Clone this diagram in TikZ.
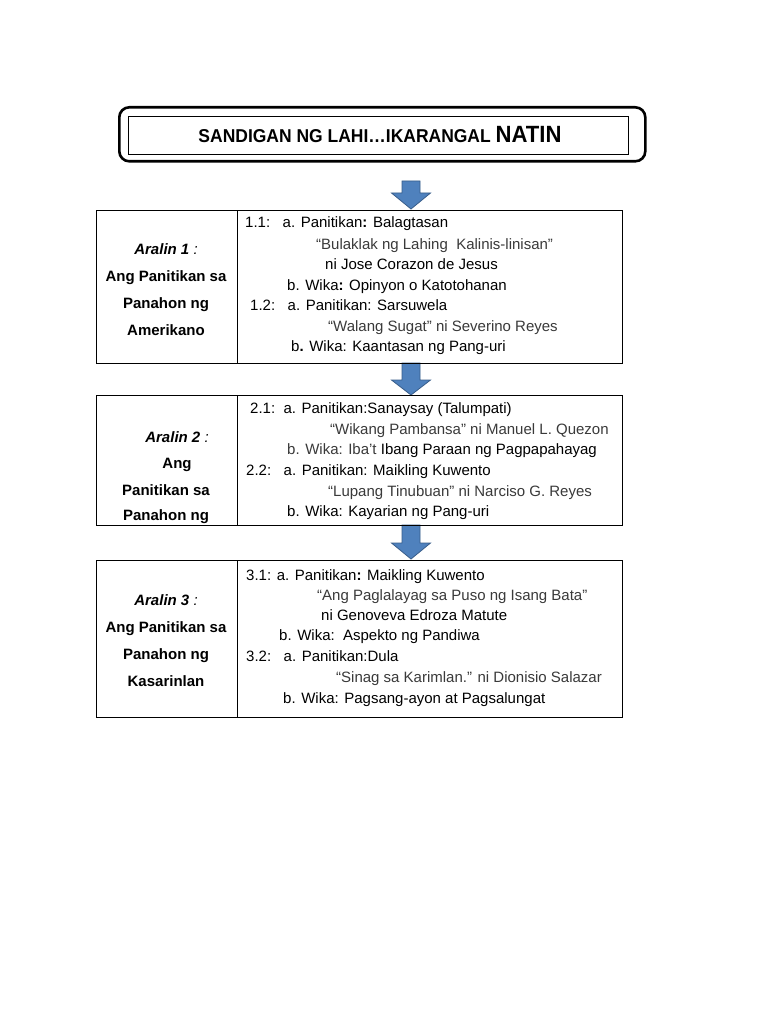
\documentclass[tikz,border=0pt]{standalone}
\usepackage{fontspec}
\setmainfont{Liberation Sans}
\newfontfamily\titlefont[FakeStretch=0.94]{Liberation Sans}
\definecolor{quotegray}{HTML}{3A3A3A}
\definecolor{arrowblue}{HTML}{4F81BD}
\definecolor{arrowedge}{HTML}{385D8A}
\begin{document}
\begin{tikzpicture}[x=1pt,y=-1pt,
  every node/.style={font=\fontsize{15}{18}\selectfont},
  t/.style={anchor=base west, inner sep=0pt},
  q/.style={anchor=base west, inner sep=0pt, text=quotegray},
  l/.style={anchor=base, inner sep=0pt, font=\fontsize{15}{18}\selectfont\bfseries},
  cell/.style={draw=black, line width=1.1pt, anchor=north west, inner sep=0pt},
  blockarrow/.style={fill=arrowblue, draw=arrowedge, line width=0.8pt, line join=miter}]
\useasboundingbox[fill=white] (0,0) rectangle (768,1024);

% ---- arrows (drawn first, boxes over them)
\coordinate (a1) at (411,181);
\coordinate (a2) at (411,363);
\coordinate (a3) at (411,525);
\draw[blockarrow] (a1) ++(-9,0) -- ++(18,0) -- ++(0,12) -- ++(10.5,0) -- ++(-19.5,16) -- ++(-19.5,-16) -- ++(10.5,0) -- cycle;
\draw[blockarrow] (a2) ++(-9,0) -- ++(18,0) -- ++(0,17) -- ++(10.5,0) -- ++(-19.5,15) -- ++(-19.5,-15) -- ++(10.5,0) -- cycle;
\draw[blockarrow] (a3) ++(-9,0) -- ++(18,0) -- ++(0,18) -- ++(10.5,0) -- ++(-19.5,16) -- ++(-19.5,-16) -- ++(10.5,0) -- cycle;

% ---- title
\node[draw=black, line width=2.6pt, rounded corners=10pt, anchor=north west, inner sep=0pt,
      minimum width=526pt, minimum height=54pt] (outer) at (118,106) {};
\node[draw=black, line width=0.8pt, anchor=north west, inner sep=0pt,
      minimum width=500pt, minimum height=38pt] (inner) at (128,116) {};
\node[anchor=base, inner sep=0pt] (title) at (380,143)
  {\titlefont\fontsize{18.6}{20}\selectfont\bfseries SANDIGAN NG LAHI…IKARANGAL \fontsize{23.5}{25}\selectfont NATIN};

% ---- panel 1
\node[cell, minimum width=141pt, minimum height=153pt] (l1) at (96,210) {};
\node[cell, minimum width=385pt, minimum height=153pt] (r1) at (237,210) {};
\node[l] (l1a) at (166,254) {\textit{Aralin 1}\textmd{\textit{ :}}};
\node[l] (l1b) at (166,281) {Ang Panitikan sa};
\node[l] (l1c) at (166,308) {Panahon ng};
\node[l] (l1d) at (166,335) {Amerikano};
\node[t] (r1a) at (245,228) {1.1:\ \ \ a. Panitikan\textbf{:} Balagtasan};
\node[q] (r1b) at (316,249) {“Bulaklak ng Lahing\ \ Kalinis-linisan”};
\node[t] (r1c) at (325,269) {ni Jose Corazon de Jesus};
\node[t] (r1d) at (287,290) {b. Wika\textbf{:} Opinyon o Katotohanan};
\node[t] (r1e) at (250,310) {1.2:\ \ \ a. Panitikan: Sarsuwela};
\node[q] (r1f) at (328,331) {“Walang Sugat” ni Severino Reyes};
\node[t] (r1g) at (291,351) {b\textbf{.} Wika: Kaantasan ng Pang-uri};

% ---- panel 2
\node[cell, minimum width=141pt, minimum height=130pt] (l2) at (96,395) {};
\node[cell, minimum width=385pt, minimum height=130pt] (r2) at (237,395) {};
\node[l] (l2a) at (177,442) {\textit{Aralin 2}\textmd{\textit{ :}}};
\node[l] (l2b) at (177,468) {Ang};
\node[l] (l2c) at (166,495) {Panitikan sa};
\node[l] (l2d) at (166,520) {Panahon ng};
\node[t] (r2a) at (250,413) {2.1:\ \ a. Panitikan:Sanaysay (Talumpati)};
\node[q] (r2b) at (330,434) {“Wikang Pambansa” ni Manuel L. Quezon};
\node[t] (r2c) at (287,454) {\textcolor{quotegray}{b. Wika: Iba’t} Ibang Paraan ng Pagpapahayag};
\node[t] (r2d) at (246,475) {2.2:\ \ \ a. Panitikan: Maikling Kuwento};
\node[q] (r2e) at (328,496) {“Lupang Tinubuan” ni Narciso G. Reyes};
\node[t] (r2f) at (287,516) {b. Wika: Kayarian ng Pang-uri};

% ---- panel 3
\node[cell, minimum width=141pt, minimum height=157pt] (l3) at (96,560) {};
\node[cell, minimum width=385pt, minimum height=157pt] (r3) at (237,560) {};
\node[l] (l3a) at (166,605) {\textit{Aralin 3}\textmd{\textit{ :}}};
\node[l] (l3b) at (166,632) {Ang Panitikan sa};
\node[l] (l3c) at (166,659) {Panahon ng};
\node[l] (l3d) at (166,686) {Kasarinlan};
\node[t] (r3a) at (246,580) {3.1: a. Panitikan\textbf{:} Maikling Kuwento};
\node[q] (r3b) at (317,600) {“Ang Paglalayag sa Puso ng Isang Bata”};
\node[t] (r3c) at (321,620) {ni Genoveva Edroza Matute};
\node[t] (r3d) at (279,640) {b. Wika:\ \ Aspekto ng Pandiwa};
\node[t] (r3e) at (246,661) {3.2:\ \ \ a. Panitikan:Dula};
\node[q] (r3f) at (336,682) {“Sinag sa Karimlan.” ni Dionisio Salazar};
\node[t] (r3g) at (283,703) {b. Wika: Pagsang-ayon at Pagsalungat};
\end{tikzpicture}
\end{document}
